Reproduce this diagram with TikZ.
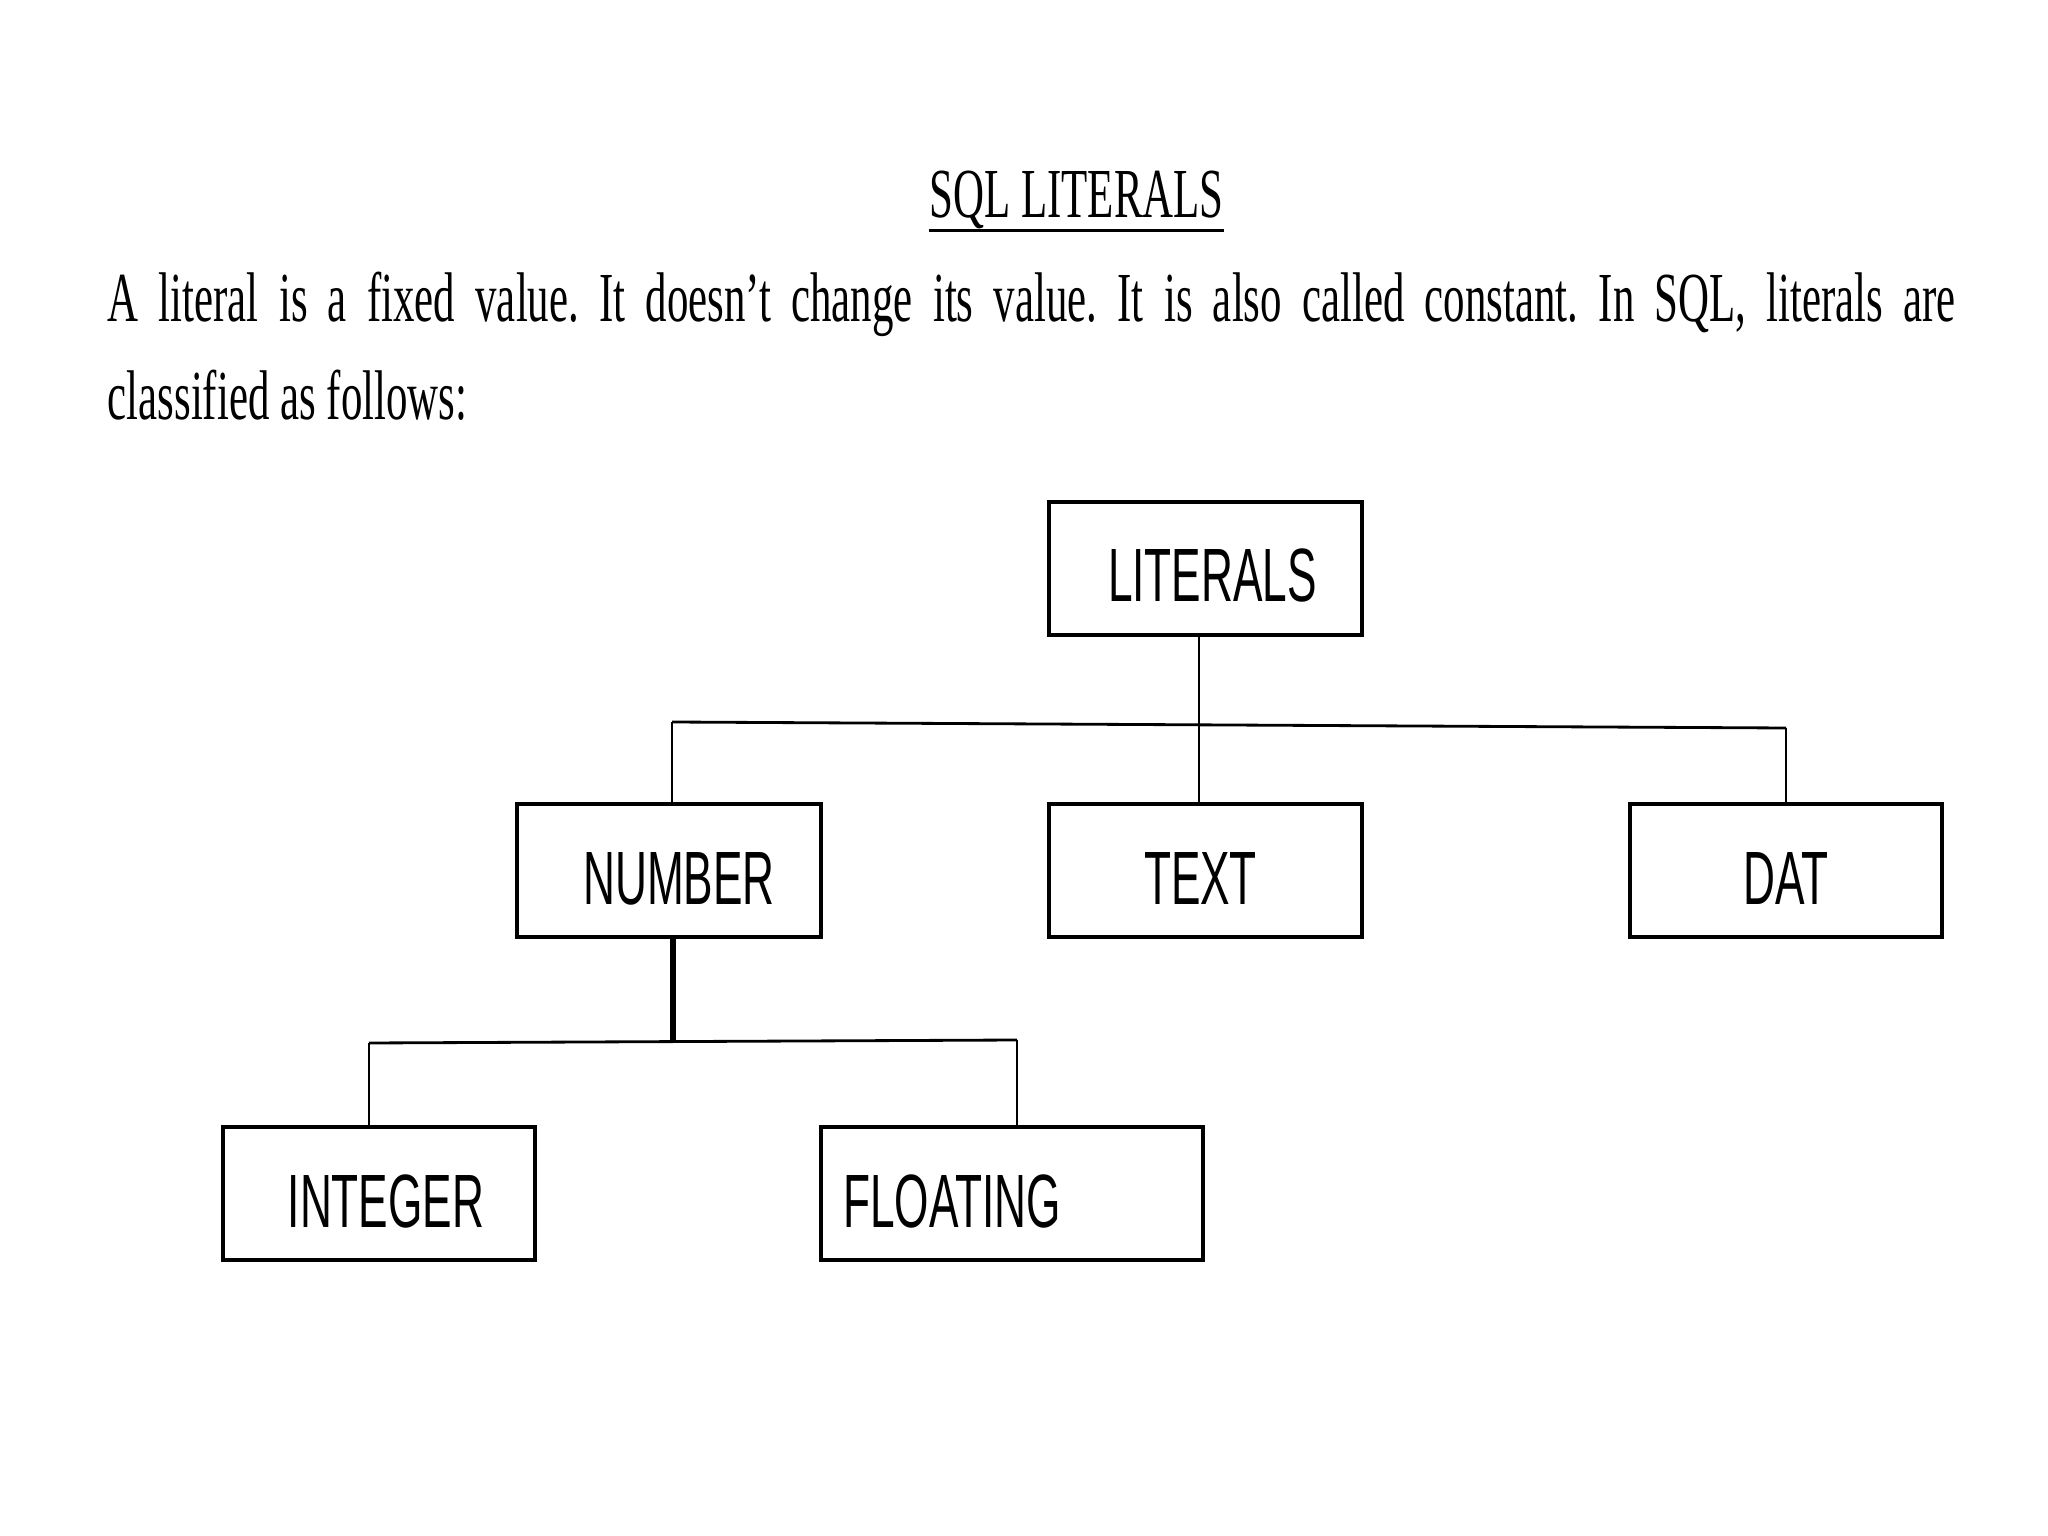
\documentclass[tikz,border=0pt]{standalone}
\usepackage{fontspec}
\setmainfont[FakeStretch=0.61]{Liberation Serif}
\newfontfamily\boxfont[FakeStretch=0.585]{Liberation Sans}
\usepackage{tikz}
\usetikzlibrary{calc}

\tikzset{
  litbox/.style={draw=black, line width=1.1pt, inner sep=0pt, minimum height=1.33cm,
    text height=0.67cm, text depth=0pt, font=\boxfont\fontsize{21.5pt}{24pt}\selectfont},
  conn/.style={black, line width=0.8pt},
  stem/.style={black, line width=1.7pt}
}

\begin{document}
\begin{tikzpicture}

\useasboundingbox[fill=white] (0,0) rectangle (20.48,-15.36);

\node[inner sep=0pt, anchor=base, font=\fontsize{20pt}{27.6pt}\selectfont] (title) at (10.765,-2.18) {SQL LITERALS};
\draw[line width=0.9pt] ([yshift=-3.6pt]title.base west) -- ([yshift=-3.6pt]title.base east);

\node[inner sep=0pt, anchor=base west, text width=18.48cm, align=justify,
  font=\fontsize{20pt}{27.6pt}\selectfont\frenchspacing] (intro) at (1.07,-3.22)
  {A literal is a fixed value. It doesn't change its value. It is also called constant. In SQL, literals are\linebreak classified as follows:};

\node[litbox, minimum width=3.13cm] (lit)  at (12.055,-5.685) {\hspace*{0.14cm}LITERALS};
\node[litbox, minimum width=3.04cm] (num)  at (6.69,-8.705)   {\hspace*{0.2cm}NUMBER};
\node[litbox, minimum width=3.13cm] (txt)  at (12.055,-8.705) {TEXT\hspace*{0.1cm}};
\node[litbox, minimum width=3.12cm] (dat)  at (17.86,-8.705)  {DAT};
\node[litbox, minimum width=3.12cm] (int)  at (3.79,-11.935)  {\hspace*{0.14cm}INTEGER};
\node[litbox, minimum width=3.82cm] (flo)  at (10.12,-11.935) {FLOATING\hspace*{1.2cm}};

\coordinate (lt) at (11.99,-7.25);
\coordinate (nb) at (6.72,-7.22);
\coordinate (db) at (17.86,-7.28);
\coordinate (ns) at (6.73,-10.42);
\coordinate (ib) at (3.69,-10.43);
\coordinate (fb) at (10.17,-10.40);

\draw[conn] (lit.south -| lt) -- (txt.north -| lt);
\draw[conn] (nb) -- (db);
\draw[conn] (nb) -- (num.north -| nb);
\draw[conn] (db) -- (dat.north -| db);

\draw[stem] (num.south -| ns) -- (ns);
\draw[conn] (ib) -- (fb);
\draw[conn] (ib) -- (int.north -| ib);
\draw[conn] (fb) -- (flo.north -| fb);

\end{tikzpicture}
\end{document}
